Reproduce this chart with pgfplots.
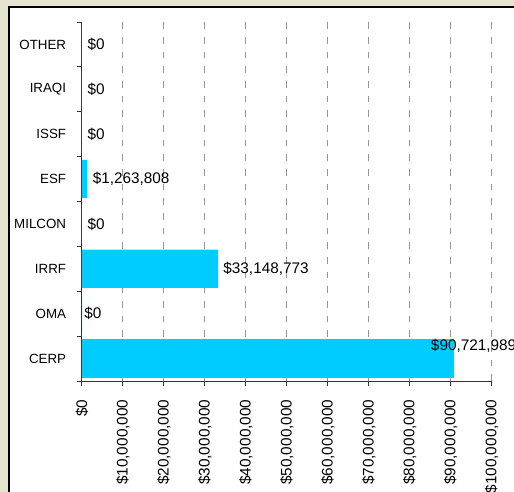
\documentclass[border=0pt]{standalone}
\usepackage{pgfplots}
\pgfplotsset{compat=1.18}
\usepackage{fontspec}
\setmainfont{Liberation Sans}
\definecolor{bgbeige}{RGB}{230,228,206}
\definecolor{barcyan}{RGB}{0,204,255}
\definecolor{gridgray}{RGB}{150,150,150}
\begin{document}
\begin{tikzpicture}[x=0.75pt,y=0.75pt]
\useasboundingbox (0,0) rectangle (514,-492);
\clip (0,0) rectangle (514,-492);
\fill[bgbeige] (0,0) rectangle (514,-492);
\filldraw[fill=white, draw=black, line width=1.5pt] (9,-7.5) rectangle (580,-580);
\begin{axis}[
    at={(61.5pt,-285.75pt)}, anchor=south west,
    scale only axis, width=307.3pt, height=269.25pt,
    xmin=0, xmax=100000000, ymin=-0.5, ymax=7.5,
    clip=false,
    axis lines*=left,
    axis line style={-, black!80, line width=0.75pt},
    tick align=outside,
    major tick length=3.75pt, minor tick length=3.75pt,
    tick style={black!80, line width=0.75pt},
    scaled x ticks=false,
    xtick={0,10000000,20000000,30000000,40000000,50000000,60000000,70000000,80000000,90000000,100000000},
    xticklabels={\$0,{\$10,000,000},{\$20,000,000},{\$30,000,000},{\$40,000,000},{\$50,000,000},{\$60,000,000},{\$70,000,000},{\$80,000,000},{\$90,000,000},{\$100,000,000}},
    xticklabel style={yshift=-10pt, rotate=90, anchor=east, inner sep=0pt, font=\fontsize{11.5}{13}\selectfont},
    xmajorgrids,
    major x grid style={gridgray, dash pattern=on 5pt off 6pt, line width=0.75pt},
    ytick={0,1,2,3,4,5,6,7},
    yticklabels={CERP,OMA,IRRF,MILCON,ESF,ISSF,IRAQI,OTHER},
    minor ytick={-0.5,0.5,1.5,2.5,3.5,4.5,5.5,6.5,7.5},
    major y tick style={draw=none},
    yticklabel style={anchor=east, inner sep=0pt, font=\fontsize{10}{12}\selectfont, xshift=-8pt},
    point meta=explicit symbolic,
    nodes near coords={\pgfplotspointmeta},
]
% most categories
\addplot[xbar, bar shift=0pt, bar width=0.85, fill=barcyan, draw=none,
    nodes near coords style={anchor=west, inner sep=0pt, xshift=4pt, font=\fontsize{11.5}{13}\selectfont}]
    coordinates {
    (33148773,2) [\$33,148,773]
    (0,3) [\$0]
    (1263808,4) [\$1,263,808]
    (0,5) [\$0]
    (0,6) [\$0]
    (0,7) [\$0]
};
% OMA
\addplot[xbar, bar shift=0pt, bar width=0.85, fill=barcyan, draw=none,
    nodes near coords style={anchor=west, inner sep=0pt, xshift=1.5pt, font=\fontsize{11.5}{13}\selectfont}]
    coordinates {(0,1) [\$0]};
% CERP
\addplot[xbar, bar shift=0pt, bar width=0.85, fill=barcyan, draw=none,
    nodes near coords style={anchor=west, inner sep=0pt, xshift=-17.25pt, yshift=9.5pt, font=\fontsize{11.5}{13}\selectfont}]
    coordinates {(90721989,0) [\$90,721,989]};
\end{axis}
\end{tikzpicture}
\end{document}
